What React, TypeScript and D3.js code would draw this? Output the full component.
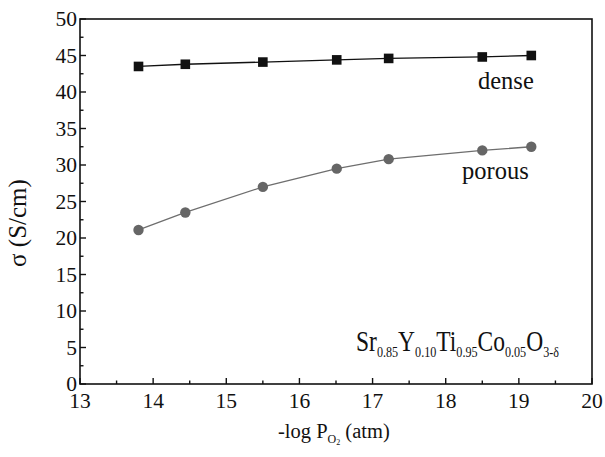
import React from "react";
import * as d3 from "d3";

// -log pO2 values (atm) at which conductivity was measured
const logPO2 = [13.8, 14.44, 15.5, 16.51, 17.22, 18.5, 19.17];
// conductivity of the dense sample (S/cm)
const denseSigma = [43.5, 43.8, 44.1, 44.4, 44.6, 44.8, 45.0];
// conductivity of the porous sample (S/cm)
const porousSigma = [21.1, 23.5, 27.0, 29.5, 30.8, 32.0, 32.5];

const xTicks = [13, 14, 15, 16, 17, 18, 19, 20];
const yTicks = [0, 5, 10, 15, 20, 25, 30, 35, 40, 45, 50];

const W = 605;
const H = 457;
const left = 80;
const right = 592;
const top = 19;
const bottom = 384;

const FONT = "Liberation Serif, DejaVu Serif, serif";
const txt = { fontFamily: FONT };

export default function App() {
  const x = d3.scaleLinear().domain([13, 20]).range([left, right]);
  const y = d3.scaleLinear().domain([0, 50]).range([bottom, top]);

  const line = d3
    .line<number>()
    .x((_, i) => x(logPO2[i]))
    .y((d) => y(d));

  const xMinor = d3.range(13.5, 20, 1);
  const yMinor = d3.range(2.5, 50, 5);

  return (
    <svg
      width={W}
      height={H}
      style={{ position: "absolute", left: 0, top: 0, background: "#fff", fontFamily: FONT }}
    >
      {/* frame */}
      <rect
        x={left}
        y={top}
        width={right - left}
        height={bottom - top}
        fill="none"
        stroke="#111"
        strokeWidth={1.6}
      />

      {/* x ticks (inward) */}
      {xTicks.map((t) => (
        <line key={"xt" + t} x1={x(t)} x2={x(t)} y1={bottom} y2={bottom - 6} stroke="#111" strokeWidth={1.4} />
      ))}
      {xMinor.map((t) => (
        <line key={"xm" + t} x1={x(t)} x2={x(t)} y1={bottom} y2={bottom - 3.5} stroke="#111" strokeWidth={1.4} />
      ))}
      {xTicks.map((t) => (
        <text key={"xl" + t} style={txt} x={x(t)} y={408} textAnchor="middle" fontSize={21.5} fill="#111">
          {t}
        </text>
      ))}

      {/* y ticks (inward) */}
      {yTicks.map((t) => (
        <line key={"yt" + t} x1={left} x2={left + 6} y1={y(t)} y2={y(t)} stroke="#111" strokeWidth={1.4} />
      ))}
      {yMinor.map((t) => (
        <line key={"ym" + t} x1={left} x2={left + 3.5} y1={y(t)} y2={y(t)} stroke="#111" strokeWidth={1.4} />
      ))}
      {yTicks.map((t) => (
        <text key={"yl" + t} style={txt} x={77} y={y(t) + 7} textAnchor="end" fontSize={21.5} fill="#111">
          {t}
        </text>
      ))}

      {/* axis titles */}
      <text style={txt} x={278} y={438} fontSize={20.5} fill="#111">
        -log P
        <tspan fontSize={12} dy={5}>O</tspan>
        <tspan fontSize={8} dy={2}>2</tspan>
        <tspan dy={-7}> (atm)</tspan>
      </text>
      <text
        style={txt}
        transform="translate(25.5,223) rotate(-90)"
        textAnchor="middle"
        fontSize={25}
        fill="#111"
      >
        σ (S/cm)
      </text>

      {/* dense series */}
      <path d={line(denseSigma) ?? ""} fill="none" stroke="#111" strokeWidth={1.3} />
      {denseSigma.map((v, i) => (
        <rect key={"d" + i} x={x(logPO2[i]) - 4.8} y={y(v) - 4.8} width={9.6} height={9.6} fill="#111" />
      ))}

      {/* porous series */}
      <path d={line(porousSigma) ?? ""} fill="none" stroke="#6e6e6e" strokeWidth={1.3} />
      {porousSigma.map((v, i) => (
        <circle key={"p" + i} cx={x(logPO2[i])} cy={y(v)} r={5.2} fill="#666" />
      ))}

      {/* series labels */}
      <text style={txt} x={478} y={89} fontSize={24.5} fill="#111">dense</text>
      <text style={txt} x={462} y={179} fontSize={24.5} fill="#111">porous</text>

      {/* composition, set in a condensed width */}
      <g transform="translate(356,351) scale(0.81,1)">
        <text style={txt} x={0} y={0} fontSize={29} fill="#111">
          Sr<tspan fontSize={15} dy={6}>0.85</tspan>
          <tspan dy={-6}>Y</tspan>
          <tspan fontSize={15} dy={6}>0.10</tspan>
          <tspan dy={-6}>Ti</tspan>
          <tspan fontSize={15} dy={6}>0.95</tspan>
          <tspan dy={-6}>Co</tspan>
          <tspan fontSize={15} dy={6}>0.05</tspan>
          <tspan dy={-6}>O</tspan>
          <tspan fontSize={15} dy={6}>3-δ</tspan>
        </text>
      </g>
    </svg>
  );
}
